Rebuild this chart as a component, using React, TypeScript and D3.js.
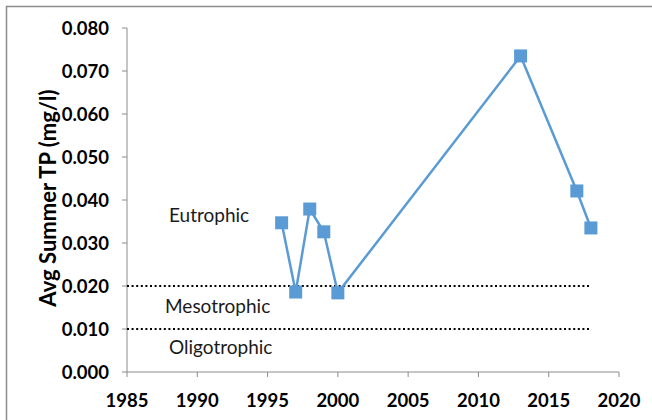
import React from "react";
import * as d3 from "d3";

const years = [1996, 1997, 1998, 1999, 2000, 2013, 2017, 2018];
const tpValues = [0.0347, 0.0186, 0.0379, 0.0326, 0.0184, 0.0735, 0.0421, 0.0335];
const xTicks = [1985, 1990, 1995, 2000, 2005, 2010, 2015, 2020];
const yTicks = [0, 0.01, 0.02, 0.03, 0.04, 0.05, 0.06, 0.07, 0.08];
const thresholds = [0.02, 0.01];
const zoneLabels = ["Eutrophic", "Mesotrophic", "Oligotrophic"];
const zoneValues = [0.0348, 0.0138, 0.0042];
const thresholdEnd = 2018;

const W = 652;
const H = 420;
const left = 127;
const right = 619;
const top = 28;
const bottom = 372;
const FONT = "Lato, 'Open Sans', sans-serif";
const COLOR = "#5B9BD5";
const AXIS = "#8c8c8c";

export default function App() {
  const x = d3.scaleLinear().domain([1985, 2020]).range([left, right]);
  const y = d3.scaleLinear().domain([0, 0.08]).range([bottom, top]);
  const line = d3
    .line<number>()
    .x((_, i) => x(years[i]))
    .y((d) => y(d));
  const ms = 13;
  const zoneX = [169, 165, 169];
  return (
    <svg
      width={W}
      height={H}
      style={{ position: "absolute", left: 0, top: 0, background: "#fff" }}
    >
      <rect x={0} y={0} width={W} height={H} fill="#fff" />
      <path d={`M6.5,${H} V6.5 H${W}`} fill="none" stroke={AXIS} strokeWidth={1.5} />
      <line x1={left} x2={left} y1={top} y2={bottom} stroke={AXIS} strokeWidth={1} />
      <line x1={left} x2={right} y1={bottom} y2={bottom} stroke={AXIS} strokeWidth={1} />
      {yTicks.map((t) => (
        <g key={"y" + t}>
          <line x1={left - 5} x2={left} y1={y(t)} y2={y(t)} stroke={AXIS} />
          <text
            x={109}
            y={y(t)}
            dy="0.36em"
            textAnchor="end"
            fontFamily={FONT}
            fontWeight="bold"
            fontSize={18.5}
            fill="#000"
          >
            {t.toFixed(3)}
          </text>
        </g>
      ))}
      {xTicks.map((t) => (
        <g key={"x" + t}>
          <line x1={x(t)} x2={x(t)} y1={bottom} y2={bottom + 5} stroke={AXIS} />
          <text
            x={x(t)}
            y={407}
            textAnchor="middle"
            fontFamily={FONT}
            fontWeight="bold"
            fontSize={18.5}
            fill="#000"
          >
            {t}
          </text>
        </g>
      ))}
      <text
        transform={`translate(56,198) rotate(-90)`}
        textAnchor="middle"
        fontFamily={FONT}
        fontWeight="bold"
        fontSize={22}
        fill="#000"
      >
        Avg Summer TP (mg/l)
      </text>
      {thresholds.map((t) => (
        <line
          key={"th" + t}
          x1={left}
          x2={x(thresholdEnd)}
          y1={y(t)}
          y2={y(t)}
          stroke="#000"
          strokeWidth={2}
          strokeDasharray="2 2.6"
        />
      ))}
      {zoneLabels.map((l, i) => (
        <text
          key={l}
          x={zoneX[i]}
          y={y(zoneValues[i])}
          fontFamily={FONT}
          fontSize={19}
          fill="#1a1a1a"
        >
          {l}
        </text>
      ))}
      <path d={line(tpValues) || ""} fill="none" stroke={COLOR} strokeWidth={2.5} />
      {tpValues.map((v, i) => (
        <rect
          key={"m" + i}
          x={x(years[i]) - ms / 2}
          y={y(v) - ms / 2}
          width={ms}
          height={ms}
          fill={COLOR}
        />
      ))}
    </svg>
  );
}
